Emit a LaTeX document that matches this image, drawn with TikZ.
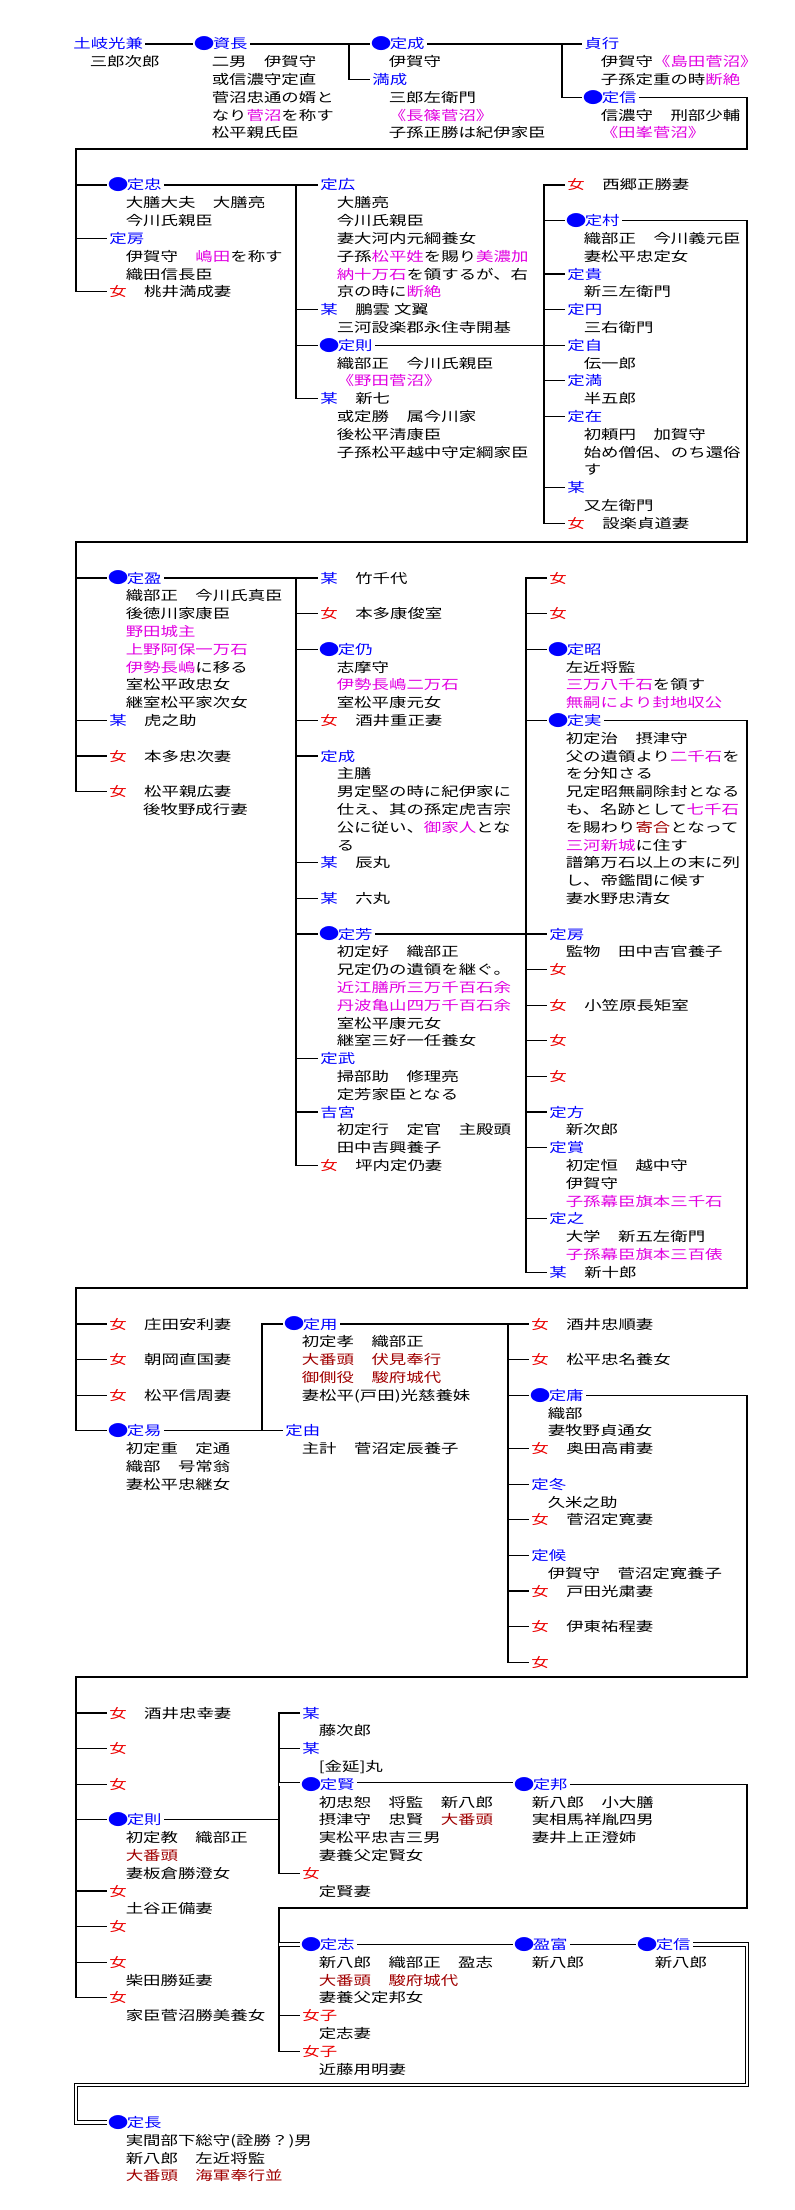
\documentclass[tikz,border=0pt]{standalone}
\usepackage{fontspec}
\setmainfont{Noto Sans CJK JP}[FakeStretch=1.32]
\definecolor{nameblue}{RGB}{0,0,255}
\definecolor{jored}{RGB}{235,0,0}
\definecolor{hlmag}{RGB}{225,0,225}
\definecolor{offred}{RGB}{160,0,0}
\tikzstyle{nm} = [anchor=west, inner xsep=1pt, inner ysep=0pt, text height=5.8pt, text depth=0.8pt, text=nameblue]
\tikzstyle{fem} = [nm, text=black]
\tikzstyle{bodytext} = [anchor=west, inner sep=0pt, text height=5.8pt, text depth=0.8pt]
\tikzstyle{link} = [line width=0.6pt]
\tikzstyle{adopt} = [line width=0.45pt, double, double distance=1.3pt]
\newcommand{\hl}[1]{\textcolor{hlmag}{#1}}
\newcommand{\dr}[1]{\textcolor{offred}{#1}}
\newcommand{\jo}{\textcolor{jored}{女}}
\newcommand{\bou}{\textcolor{nameblue}{某}}
\newcommand{\maru}{\makebox[8.7pt][c]{\raisebox{-0.45pt}{\fontsize{7.8pt}{8pt}\selectfont ●}}}
\newcommand{\notes}[2]{\foreach \entryline [count=\idx] in {#2}{\node[bodytext] (#1-\idx) at ([xshift=9.2pt,yshift=-\idx*8.9pt]#1.west) {\entryline};}}
\begin{document}
\begin{tikzpicture}[x=0.5pt, y=-0.5pt, font=\fontsize{6.6pt}{8.9pt}\selectfont]
\useasboundingbox (0,0) rectangle (794,2210);
\node[nm] (tokimitsukane) at (71,44) {土岐光兼};
\node[nm] (sukenaga) at (193,44) {\maru 資長};
\node[nm] (sadashige) at (370,44) {\maru 定成};
\node[nm] (mitsushige) at (370,79.6) {満成};
\node[nm] (sadayuki) at (582,44) {貞行};
\node[nm] (sadanobu) at (582,97.4) {\maru 定信};
\notes{tokimitsukane}{三郎次郎}
\notes{sukenaga}{二男　伊賀守, 或信濃守定直, 菅沼忠通の婿と, なり\hl{菅沼}を称す, 松平親氏臣}
\notes{sadashige}{伊賀守}
\notes{mitsushige}{三郎左衛門, \hl{《長篠菅沼》}, 子孫正勝は紀伊家臣}
\notes{sadayuki}{伊賀守\hl{《島田菅沼》}, 子孫定重の時\hl{断絶}}
\notes{sadanobu}{信濃守　刑部少輔, \hl{《田峯菅沼》}}
\coordinate (bA) at (349,0);
\coordinate (bB) at (562,0);
\draw[link] (tokimitsukane.east) -- (sukenaga.west);
\draw[link] (sukenaga.east) -- (sadashige.west);
\draw[link] (sadashige.west -| bA) |- (mitsushige.west);
\draw[link] (sadashige.east) -- (sadayuki.west);
\draw[link] (sadayuki.west -| bB) |- (sadanobu.west);

\node[nm] (sadatada) at (107,185) {\maru 定忠};
\node[nm] (sadafusa) at (107,238.4) {定房};
\node[fem] (onnaA) at (107,291.8) {\jo　桃井満成妻};
\notes{sadatada}{大膳大夫　大膳亮, 今川氏親臣}
\notes{sadafusa}{伊賀守　\hl{嶋田}を称す, 織田信長臣}
\node[nm] (sadahiro) at (318,185) {定広};
\node[fem] (bouA) at (318,309.6) {\bou　鵬雲 文翼};
\node[nm] (sadanori) at (318,345.2) {\maru 定則};
\node[fem] (bouB) at (318,398.6) {\bou　新七};
\notes{sadahiro}{大膳亮, 今川氏親臣, 妻大河内元綱養女, 子孫\hl{松平姓}を賜り\hl{美濃加}, \hl{納十万石}を領するが、右, 京の時に\hl{断絶}}
\notes{bouA}{三河設楽郡永住寺開基}
\notes{sadanori}{織部正　今川氏親臣, \hl{《野田菅沼》}}
\notes{bouB}{或定勝　属今川家, 後松平清康臣, 子孫松平越中守定綱家臣}
\node[fem] (onnaB) at (565,185) {\jo　西郷正勝妻};
\node[nm] (sadamura) at (565,220.6) {\maru 定村};
\node[nm] (sadataka) at (565,274) {定貴};
\node[nm] (sadamaru) at (565,309.6) {定円};
\node[nm] (sadayori) at (565,345.2) {定自};
\node[nm] (sadamitsu) at (565,380.8) {定満};
\node[nm] (sadaari) at (565,416.4) {定在};
\node[nm] (bouC) at (565,487.6) {某};
\node[fem] (onnaC) at (565,523.2) {\jo　設楽貞道妻};
\notes{sadamura}{織部正　今川義元臣, 妻松平忠定女}
\notes{sadataka}{新三左衛門}
\notes{sadamaru}{三右衛門}
\notes{sadayori}{伝一郎}
\notes{sadamitsu}{半五郎}
\notes{sadaari}{初頼円　加賀守, 始め僧侶、のち還俗, す}
\notes{bouC}{又左衛門}
\coordinate (t1) at (747,149);
\coordinate (t1l) at (76,149);
\coordinate (b2) at (296,0);
\coordinate (b3) at (544,0);
\draw[link] (sadanobu.east) -| (t1) -- (t1l) |- (onnaA.west);
\foreach \n in {sadatada,sadafusa} \draw[link] (\n.west -| t1l) -- (\n.west);
\draw[link] (sadatada.east) -- (sadahiro.west);
\draw[link] (sadahiro.west -| b2) |- (bouB.west);
\foreach \n in {bouA,sadanori} \draw[link] (\n.west -| b2) -- (\n.west);
\draw[link] (onnaB.west) -| (b3 |- onnaC.west) -- (onnaC.west);
\foreach \n in {sadamura,sadataka,sadamaru,sadamitsu,sadaari,bouC} \draw[link] (\n.west -| b3) -- (\n.west);
\draw[link] (sadanori.east) -- (sadayori.west);

\node[nm] (sadamitsuA) at (107,578) {\maru 定盈};
\node[fem] (bouD) at (107,720.4) {\bou　虎之助};
\node[fem] (onnaD) at (107,756) {\jo　本多忠次妻};
\node[fem] (onnaE) at (107,791.6) {\jo　松平親広妻};
\notes{sadamitsuA}{織部正　今川氏真臣, 後徳川家康臣, \hl{野田城主}, \hl{上野阿保一万石}, \hl{伊勢長嶋}に移る, 室松平政忠女, 継室松平家次女}
\notes{onnaE}{　後牧野成行妻}
\node[fem] (bouE) at (318,578) {\bou　竹千代};
\node[fem] (onnaF) at (318,613.6) {\jo　本多康俊室};
\node[nm] (sadayoshi) at (318,649.2) {\maru 定仍};
\node[fem] (onnaG) at (318,720.4) {\jo　酒井重正妻};
\node[nm] (sadashigeB) at (318,756) {定成};
\node[fem] (bouF) at (318,862.8) {\bou　辰丸};
\node[fem] (bouG) at (318,898.4) {\bou　六丸};
\node[nm] (sadayoshiB) at (318,934) {\maru 定芳};
\node[nm] (sadatake) at (318,1058.6) {定武};
\node[nm] (yoshimiya) at (318,1112) {吉宮};
\node[fem] (onnaH) at (318,1165.4) {\jo　坪内定仍妻};
\notes{sadayoshi}{志摩守, \hl{伊勢長嶋二万石}, 室松平康元女}
\notes{sadashigeB}{主膳, 男定堅の時に紀伊家に, 仕え、其の孫定虎吉宗, 公に従い、\hl{御家人}とな, る}
\notes{sadayoshiB}{初定好　織部正, 兄定仍の遺領を継ぐ。, \hl{近江膳所三万千百石余}, \hl{丹波亀山四万千百石余}, 室松平康元女, 継室三好一任養女}
\notes{sadatake}{掃部助　修理亮, 定芳家臣となる}
\notes{yoshimiya}{初定行　定官　主殿頭, 田中吉興養子}
\node[fem] (onnaI) at (547,578) {\jo};
\node[fem] (onnaJ) at (547,613.6) {\jo};
\node[nm] (sadaaki) at (547,649.2) {\maru 定昭};
\node[nm] (sadazane) at (547,720.4) {\maru 定実};
\node[nm] (sadafusaB) at (547,934) {定房};
\node[fem] (onnaK) at (547,969.6) {\jo};
\node[fem] (onnaL) at (547,1005.2) {\jo　小笠原長矩室};
\node[fem] (onnaM) at (547,1040.8) {\jo};
\node[fem] (onnaN) at (547,1076.4) {\jo};
\node[nm] (sadakata) at (547,1112) {定方};
\node[nm] (sadataka2) at (547,1147.6) {定賞};
\node[nm] (sadayuki2) at (547,1218.8) {定之};
\node[fem] (bouH) at (547,1272.2) {\bou　新十郎};
\notes{sadaaki}{左近将監, \hl{三万八千石}を領す, \hl{無嗣により封地収公}}
\notes{sadazane}{初定治　摂津守, 父の遺領より\hl{二千石}を, を分知さる, 兄定昭無嗣除封となる, も、名跡として\hl{七千石}, を賜わり\dr{寄合}となって, \hl{三河新城}に住す, 譜第万石以上の末に列, し、帝鑑間に候す, 妻水野忠清女}
\notes{sadafusaB}{監物　田中吉官養子}
\notes{sadakata}{新次郎}
\notes{sadataka2}{初定恒　越中守, 伊賀守, \hl{子孫幕臣旗本三千石}}
\notes{sadayuki2}{大学　新五左衛門, \hl{子孫幕臣旗本三百俵}}
\coordinate (t2) at (747,542);
\coordinate (t2l) at (76,542);
\coordinate (b3a) at (296,0);
\coordinate (b3b) at (526,0);
\draw[link] (sadamura.east) -| (t2) -- (t2l) |- (onnaE.west);
\foreach \n in {sadamitsuA,bouD,onnaD} \draw[link] (\n.west -| t2l) -- (\n.west);
\draw[link] (sadamitsuA.east) -- (bouE.west);
\draw[link] (bouE.west -| b3a) |- (onnaH.west);
\foreach \n in {onnaF,sadayoshi,onnaG,sadashigeB,bouF,bouG,sadayoshiB,sadatake,yoshimiya} \draw[link] (\n.west -| b3a) -- (\n.west);
\draw[link] (onnaI.west) -| (b3b |- bouH.west) -- (bouH.west);
\foreach \n in {onnaJ,sadaaki,sadazane,onnaK,onnaL,onnaM,onnaN,sadakata,sadataka2,sadayuki2} \draw[link] (\n.west -| b3b) -- (\n.west);
\draw[link] (sadayoshiB.east) -- (sadafusaB.west);

\node[fem] (onnaO) at (107,1324) {\jo　庄田安利妻};
\node[fem] (onnaP) at (107,1359.6) {\jo　朝岡直国妻};
\node[fem] (onnaQ) at (107,1395.2) {\jo　松平信周妻};
\node[nm] (sadayasu) at (107,1430.8) {\maru 定易};
\notes{sadayasu}{初定重　定通, 織部　号常翁, 妻松平忠継女}
\node[nm] (sadamochi) at (283,1324) {\maru 定用};
\node[nm] (sadayoshiC) at (283,1430.8) {定由};
\notes{sadamochi}{初定孝　織部正, \dr{大番頭　伏見奉行}, \dr{御側役　駿府城代}, {妻松平(戸田)光慈養妹}}
\notes{sadayoshiC}{主計　菅沼定辰養子}
\node[fem] (onnaR) at (529,1324) {\jo　酒井忠順妻};
\node[fem] (onnaS) at (529,1359.6) {\jo　松平忠名養女};
\node[nm] (sadatsune) at (529,1395.2) {\maru 定庸};
\node[fem] (onnaT) at (529,1448.6) {\jo　奥田高甫妻};
\node[nm] (sadafuyu) at (529,1484.2) {定冬};
\node[fem] (onnaU) at (529,1519.8) {\jo　菅沼定寛妻};
\node[nm] (sadakoro) at (529,1555.4) {定候};
\node[fem] (onnaV) at (529,1591) {\jo　戸田光粛妻};
\node[fem] (onnaW) at (529,1626.6) {\jo　伊東祐程妻};
\node[fem] (onnaX) at (529,1662.2) {\jo};
\notes{sadatsune}{織部, 妻牧野貞通女}
\notes{sadafuyu}{久米之助}
\notes{sadakoro}{伊賀守　菅沼定寛養子}
\coordinate (t3) at (747,1288);
\coordinate (t3l) at (76,1288);
\coordinate (b4a) at (262,0);
\coordinate (b4b) at (508,0);
\draw[link] (sadazane.east) -| (t3) -- (t3l) |- (sadayasu.west);
\foreach \n in {onnaO,onnaP,onnaQ} \draw[link] (\n.west -| t3l) -- (\n.west);
\draw[link] (sadayasu.east) -- (sadayoshiC.west);
\draw[link] (sadamochi.west) -| (b4a |- sadayoshiC.west);
\draw[link] (sadamochi.east) -- (onnaR.west);
\draw[link] (onnaR.west -| b4b) |- (onnaX.west);
\foreach \n in {onnaS,sadatsune,onnaT,sadafuyu,onnaU,sadakoro,onnaV,onnaW} \draw[link] (\n.west -| b4b) -- (\n.west);

\node[fem] (onnaY) at (107,1713) {\jo　酒井忠幸妻};
\node[fem] (onnaZ) at (107,1748.6) {\jo};
\node[fem] (onnaAA) at (107,1784.2) {\jo};
\node[nm] (sadanoriB) at (107,1819.8) {\maru 定則};
\node[fem] (onnaAB) at (107,1891) {\jo};
\node[fem] (onnaAC) at (107,1926.6) {\jo};
\node[fem] (onnaAD) at (107,1962.2) {\jo};
\node[fem] (onnaAE) at (107,1997.8) {\jo};
\notes{sadanoriB}{初定教　織部正, \dr{大番頭}, 妻板倉勝澄女}
\notes{onnaAB}{土谷正備妻}
\notes{onnaAD}{柴田勝延妻}
\notes{onnaAE}{家臣菅沼勝美養女}
\node[nm] (bouI) at (300,1713) {某};
\node[nm] (bouJ) at (300,1748.6) {某};
\node[nm] (sadakata3) at (300,1784.2) {\maru 定賢};
\node[fem] (onnaAF) at (300,1873.2) {\jo};
\notes{bouI}{藤次郎}
\notes{bouJ}{{[金延]丸}}
\notes{sadakata3}{初忠恕　将監　新八郎, 摂津守　忠賢　\dr{大番頭}, 実松平忠吉三男, 妻養父定賢女}
\notes{onnaAF}{定賢妻}
\node[nm] (sadakuni) at (513,1784.2) {\maru 定邦};
\notes{sadakuni}{新八郎　小大膳, 実相馬祥胤四男, 妻井上正澄姉}
\node[nm] (sadayuki3) at (300,1944.4) {\maru 定志};
\node[fem] (joshiA) at (300,2015.6) {\textcolor{jored}{女子}};
\node[fem] (joshiB) at (300,2051.2) {\textcolor{jored}{女子}};
\node[nm] (mitsutomi) at (513,1944.4) {\maru 盈富};
\node[nm] (sadanobuB) at (636,1944.4) {\maru 定信};
\notes{sadayuki3}{新八郎　織部正　盈志, \dr{大番頭　駿府城代}, 妻養父定邦女}
\notes{joshiA}{定志妻}
\notes{joshiB}{近藤用明妻}
\notes{mitsutomi}{新八郎}
\notes{sadanobuB}{新八郎}
\node[nm] (sadanaga) at (107,2122.4) {\maru 定長};
\notes{sadanaga}{{実間部下総守(詮勝？)男}, 新八郎　左近将監, \dr{大番頭　海軍奉行並}}
\coordinate (t4) at (747,1677);
\coordinate (t4l) at (76,1677);
\coordinate (b5) at (279,0);
\coordinate (t5) at (747,1908);
\coordinate (t5l) at (279,1908);
\coordinate (t6) at (747,2085);
\coordinate (t6l) at (76,2085);
\draw[link] (sadatsune.east) -| (t4) -- (t4l) |- (onnaAE.west);
\foreach \n in {onnaY,onnaZ,onnaAA,sadanoriB,onnaAB,onnaAC,onnaAD} \draw[link] (\n.west -| t4l) -- (\n.west);
\draw[link] (sadanoriB.east) -- (sadanoriB.east -| b5);
\draw[link] (bouI.west) -| (b5 |- onnaAF.west) -- (onnaAF.west);
\draw[link] (bouJ.west -| b5) -- (bouJ.west);
\draw[adopt] (sadakata3.west -| b5) -- (sadakata3.west);
\draw[adopt] (sadakata3.east) -- (sadakuni.west);
\draw[link] (sadakuni.east) -| (t5) -- (t5l) |- (joshiB.west);
\draw[link] (joshiA.west -| t5l) -- (joshiA.west);
\draw[adopt] (sadayuki3.west -| t5l) -- (sadayuki3.west);
\draw[link] (sadayuki3.east) -- (mitsutomi.west);
\draw[link] (mitsutomi.east) -- (sadanobuB.west);
\draw[adopt] (sadanobuB.east) -| (t6) -- (t6l) |- (sadanaga.west);
\end{tikzpicture}
\end{document}
